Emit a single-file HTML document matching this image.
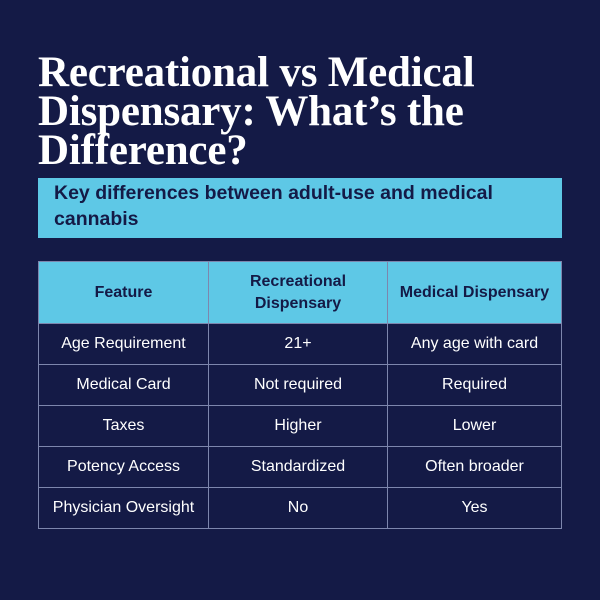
<!DOCTYPE html>
<html><head><meta charset="utf-8"><style>
body{margin:0;width:600px;height:600px;background:#141a46;overflow:hidden;font-family:"Liberation Sans",sans-serif;}
h1{position:absolute;left:38px;top:53px;margin:0;font-family:"Liberation Serif",serif;font-weight:bold;font-size:43px;line-height:39px;color:#fff;width:540px;letter-spacing:-0.2px}
.banner{position:absolute;left:38px;top:178px;width:524px;height:60px;background:#5ec8e6;color:#141a46;font-weight:bold;font-size:19.5px;line-height:26px;box-sizing:border-box;padding:2px 30px 0 16px}
table{position:absolute;left:38px;top:261px;width:524px;border-collapse:collapse;}
td,th{border:1px solid #7d86ad;text-align:center;font-size:16px;color:#fff;height:40px;padding:0}
th{background:#5ec8e6;color:#141a46;font-size:16px;height:61px;line-height:22px}
</style></head><body>
<h1>Recreational vs Medical Dispensary: What’s the Difference?</h1>
<div class="banner">Key differences between adult-use and medical cannabis</div>
<table>
<tr><th style="width:169px">Feature</th><th style="width:178px">Recreational<br>Dispensary</th><th>Medical Dispensary</th></tr>
<tr><td>Age Requirement</td><td>21+</td><td>Any age with card</td></tr>
<tr><td>Medical Card</td><td>Not required</td><td>Required</td></tr>
<tr><td>Taxes</td><td>Higher</td><td>Lower</td></tr>
<tr><td>Potency Access</td><td>Standardized</td><td>Often broader</td></tr>
<tr><td>Physician Oversight</td><td>No</td><td>Yes</td></tr>
</table>
</body></html>
